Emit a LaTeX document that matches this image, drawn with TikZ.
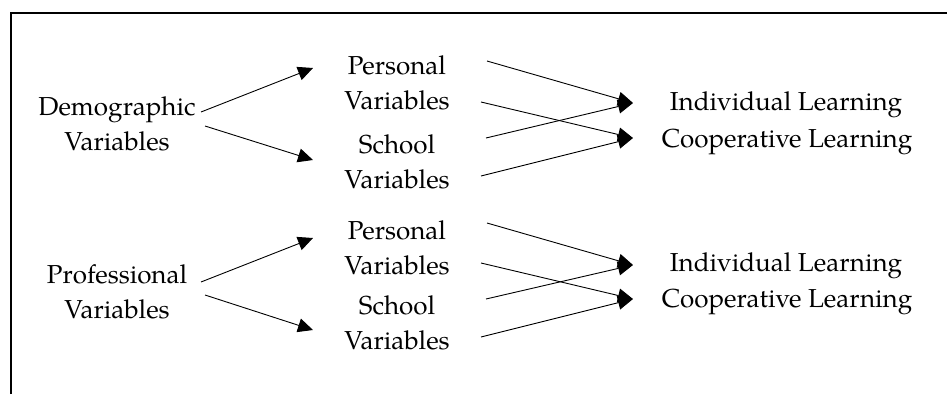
\documentclass[tikz,border=0pt]{standalone}
\usepackage{fontspec}
\setmainfont{TeX Gyre Pagella}
\usetikzlibrary{arrows.meta}
\begin{document}
\begin{tikzpicture}[x=1pt,y=-1pt,
  lbl/.style={inner sep=0pt,align=center,font=\fontsize{26}{35.5}\selectfont},
  arr/.style={line width=0.9pt,-{Triangle[length=15pt,width=14pt]}},
  frame/.style={line width=2pt}]
\useasboundingbox (0,0) rectangle (947,394);
\draw[frame] (11,394) -- (11,13) -- (947,13);
% top group
\node[lbl] (demo) at (117,124) {Demographic\\Variables};
\node[lbl] (pers1) at (397,83) {Personal\\Variables};
\node[lbl] (sch1) at (397,162) {School\\Variables};
\node[lbl] (ind1) at (786,105) {Individual Learning};
\node[lbl] (coop1) at (787,142) {Cooperative Learning};
% bottom group
\node[lbl] (prof) at (117,292) {Professional\\Variables};
\node[lbl] (pers2) at (397,248) {Personal\\Variables};
\node[lbl] (sch2) at (397,323) {School\\Variables};
\node[lbl] (ind2) at (786,266) {Individual Learning};
\node[lbl] (coop2) at (787,302) {Cooperative Learning};
% connector ends
\coordinate (d1) at (201,112); \coordinate (d2) at (205,126);
\coordinate (p1a) at (313,68); \coordinate (s1a) at (313,160);
\coordinate (p1b) at (487,61); \coordinate (p1c) at (481,102);
\coordinate (s1b) at (486,138); \coordinate (s1c) at (481,176);
\coordinate (i1) at (633,103); \coordinate (c1) at (633,138);
\coordinate (f1) at (201,282); \coordinate (f2) at (205,295);
\coordinate (p2a) at (313,238); \coordinate (s2a) at (313,330);
\coordinate (p2b) at (487,223); \coordinate (p2c) at (481,263);
\coordinate (s2b) at (486,299); \coordinate (s2c) at (481,337);
\coordinate (i2) at (633,265); \coordinate (c2) at (633,299);
\draw[arr] (d1) -- (p1a);
\draw[arr] (d2) -- (s1a);
\draw[arr] (p1b) -- (i1);
\draw[arr] (p1c) -- (c1);
\draw[arr] (s1b) -- (i1);
\draw[arr] (s1c) -- (c1);
\draw[arr] (f1) -- (p2a);
\draw[arr] (f2) -- (s2a);
\draw[arr] (p2b) -- (i2);
\draw[arr] (p2c) -- (c2);
\draw[arr] (s2b) -- (i2);
\draw[arr] (s2c) -- (c2);
\end{tikzpicture}
\end{document}
